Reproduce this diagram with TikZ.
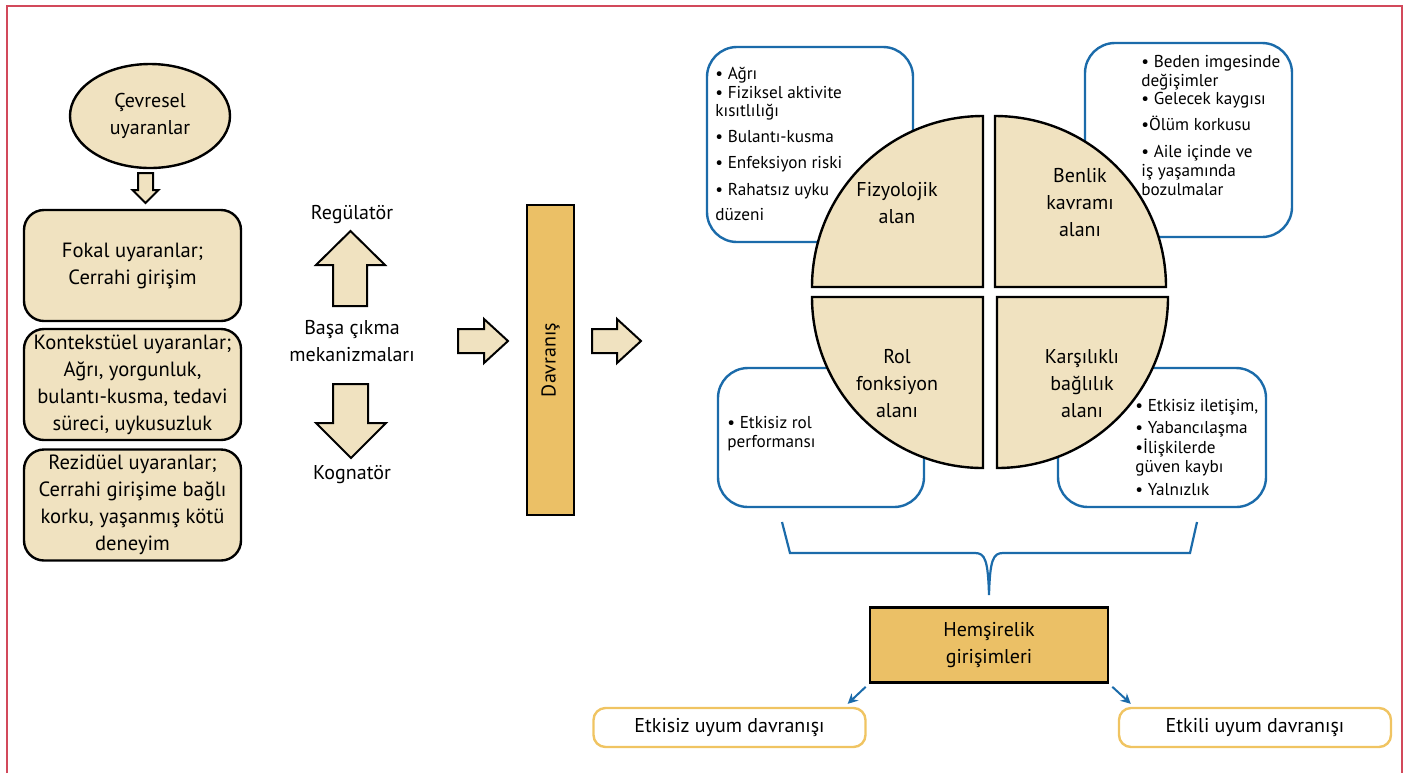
\documentclass[tikz,border=0pt]{standalone}
\usepackage{fontspec}
\setmainfont{PT Sans}
\usetikzlibrary{shapes.geometric,arrows.meta}
\definecolor{beige}{HTML}{F0E2C0}
\definecolor{gold}{HTML}{EBC066}
\definecolor{roybleu}{HTML}{1B6BAA}
\definecolor{framered}{HTML}{D2495B}
\definecolor{sunline}{HTML}{F0C462}
\tikzset{
  stimbox/.style={draw=black,line width=1.2pt,fill=beige,rounded corners=10pt,minimum width=108.5pt,minimum height=55.5pt,align=center,inner sep=1pt,font=\fontsize{10.3}{13.5}\selectfont},
  bigarrow/.style={draw=black,line width=1pt,fill=beige,line join=miter},
  listbox/.style={draw=roybleu,line width=1.2pt,rounded corners=15pt},
  listtext/.style={align=left,inner sep=0pt,font=\fontsize{8.6}{9.3}\selectfont},
  quart/.style={draw=black,line width=1.2pt,fill=beige},
  goldbox/.style={draw=black,line width=1.3pt,fill=gold},
  outbox/.style={draw=sunline,line width=1.2pt,rounded corners=6pt,minimum width=136pt,minimum height=19.5pt},
  bluearr/.style={draw=roybleu,line width=1pt,-{Stealth[length=5pt,width=5pt]}},
}
\begin{document}
\begin{tikzpicture}[x=0.5pt,y=-0.5pt,font=\fontsize{10}{13.5}\selectfont]
\useasboundingbox (0,0) rectangle (1408,773);
\draw[framered,line width=1.3pt] (7,773)--(7,6)--(1402,6)--(1402,773);

% stimuli column
\node[ellipse,draw=black,line width=1.2pt,fill=beige,minimum width=80pt,minimum height=52pt,align=center] (cevre) at (150,116) {Çevresel\\uyaranlar};
\draw[bigarrow] (138,173)--(153,173)--(153,190)--(158.5,190)--(145.5,203)--(132.5,190)--(138,190)--cycle;
\node[stimbox] (fokal) at (132.5,265.5) {Fokal uyaranlar;\\Cerrahi girişim};
\node[stimbox] (kontekst) at (132.5,384.5) {Kontekstüel uyaranlar;\\Ağrı, yorgunluk,\\bulantı-kusma, tedavi\\süreci, uykusuzluk};
\node[stimbox] (rezidu) at (132.5,505) {Rezidüel uyaranlar;\\Cerrahi girişime bağlı\\korku, yaşanmış kötü\\deneyim};

% coping
\node (regul) at (352,215) {Regülatör};
\draw[bigarrow] (333,306)--(333,265)--(316,265)--(350.5,231)--(385,265)--(367,265)--(367,306)--cycle;
\node[align=center] (basa) at (352,341) {Başa çıkma\\mekanizmaları};
\draw[bigarrow] (333,384)--(368,384)--(368,423)--(386,423)--(351,458)--(316,423)--(333,423)--cycle;
\node (kogn) at (352,475) {Kognatör};

\draw[bigarrow] (458,329)--(484,329)--(484,319)--(508,341)--(484,363)--(484,353)--(458,353)--cycle;
\node[goldbox,rotate=90,minimum width=155pt,minimum height=23.5pt] (davr) at (550.5,360) {Davranış};
\draw[bigarrow] (592,329)--(617,329)--(617,319)--(641,341)--(617,363)--(617,353)--(592,353)--cycle;

% adaptive modes, lists behind the circle
\node[listbox,minimum width=103pt,minimum height=97.5pt] (fizbox) at (810,144.5) {};
\node[listtext,anchor=north west] (fizlist) at (715,67) {• Ağrı\\• Fiziksel aktivite\\kısıtlılığı\\[3.5pt]• Bulantı-kusma\\[3.5pt]• Enfeksiyon riski\\[4.5pt]• Rahatsız uyku\\[3pt]düzeni};
\node[listbox,minimum width=103.5pt,minimum height=97pt] (benbox) at (1188.5,140) {};
\node[listtext,anchor=north west] (benlist) at (1141,55) {• Beden imgesinde\\değişimler\\• Gelecek kaygısı\\[3.5pt]•Ölüm korkusu\\[4.5pt]• Aile içinde ve\\iş yaşamında\\bozulmalar};
\node[listbox,minimum width=103pt,minimum height=69.5pt] (rolbox) at (821,437.5) {};
\node[listtext,anchor=north west] (rollist) at (727,416) {• Etkisiz rol\\performansı};
\node[listbox,minimum width=104pt,minimum height=69.5pt] (karbox) at (1162,437.5) {};
\node[listtext,anchor=north west] (karlist) at (1135,399) {• Etkisiz iletişim,\\[1.5pt]• Yabancılaşma\\[1pt]•İlişkilerde\\güven kaybı\\[2.5pt]• Yalnızlık};

\filldraw[quart] (983,287)--(812,287) arc[start angle=180,end angle=270,radius=171]--cycle;
\filldraw[quart] (995,287)--(995,116) arc[start angle=270,end angle=360,radius=171]--cycle;
\filldraw[quart] (983,297)--(983,468) arc[start angle=90,end angle=180,radius=171]--cycle;
\filldraw[quart] (997,297)--(1168,297) arc[start angle=0,end angle=90,radius=171]--cycle;
\node[align=center] (fizlab) at (897,203) {Fizyolojik\\alan};
\node[align=center] (benlab) at (1080,203) {Benlik\\kavramı\\alanı};
\node[align=center] (rollab) at (897,384) {Rol\\fonksiyon\\alanı};
\node[align=center] (karlab) at (1082,384) {Karşılıklı\\bağlılık\\alanı};

% nursing
\coordinate (brl) at (782,522);
\coordinate (brr) at (1197,522);
\coordinate (brtip) at (989,595);
\draw[roybleu,line width=1.1pt] (brl)--(790,553)--(975,553) .. controls (985,553) and (988,560) .. (brtip) .. controls (990,560) and (993,553) .. (1003,553)--(1190,553)--(brr);
\node[goldbox,minimum width=119pt,minimum height=37.5pt,align=center] (hemsire) at (989,645) {Hemşirelik\\girişimleri};
\node[outbox] (etkisiz) at (729.5,727.5) {Etkisiz uyum davranışı};
\node[outbox] (etkili) at (1255,727.5) {Etkili uyum davranışı};
\draw[bluearr] ([xshift=-1.5pt,yshift=-1.5pt]hemsire.south west)--([xshift=-9.5pt,yshift=1.5pt]etkisiz.north east);
\draw[bluearr] ([xshift=1.5pt,yshift=-1.5pt]hemsire.south east)--([xshift=6.5pt,yshift=1.5pt]etkili.north west);
\end{tikzpicture}
\end{document}
